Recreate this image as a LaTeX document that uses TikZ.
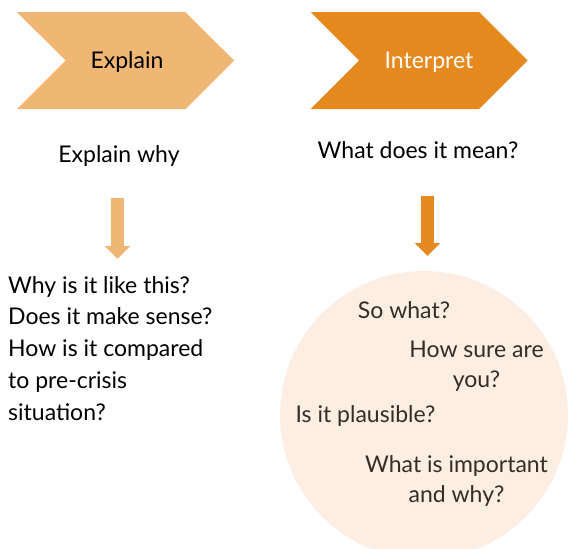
\documentclass[tikz,border=0pt]{standalone}
\usepackage{fontspec}
\setmainfont{Lato}
\usetikzlibrary{shapes.symbols,arrows.meta}
\definecolor{lightorange}{RGB}{240,183,116}
\definecolor{darkorange}{RGB}{230,137,30}
\definecolor{paleorange}{RGB}{252,238,227}
\definecolor{darkbrown}{RGB}{55,45,35}
\begin{document}
\begin{tikzpicture}[x=1pt,y=-1pt,line join=round,font=\fontsize{23}{31.75}\selectfont,
	chevron/.style={signal,signal from=west,signal to=east,signal pointer angle=90,minimum width=217pt,minimum height=97pt,inner sep=0pt},
	downarrow/.style={line width=13pt,-{Triangle[width=25pt,length=13pt]}},
	question/.style={anchor=base,align=center,text=darkbrown,inner sep=0pt,font=\fontsize{23}{30}\selectfont}]
	\useasboundingbox (0,0) rectangle (568,549);
	\begin{scope}
		\clip (0,0) rectangle (568,549);
		\fill[paleorange] (424,415) circle(144);
	\end{scope}
	\node[chevron,fill=lightorange] (explain) at (125.5,60.5) {};
	\node[chevron,fill=darkorange] (interpret) at (419,60.5) {};
	\node[anchor=base,inner sep=0pt] (explaintxt) at (127,68) {Explain};
	\node[anchor=base,inner sep=0pt,text=white] (interprettxt) at (429,68) {Interpret};
	\node[anchor=base,inner sep=0pt] (why) at (119,162) {Explain why};
	\node[anchor=base,inner sep=0pt] (mean) at (418,158) {What does it mean?};
	\coordinate (lefttop) at (117.5,198);
	\coordinate (leftend) at (117.5,259);
	\coordinate (righttop) at (427.5,196);
	\coordinate (rightend) at (427.5,256);
	\draw[downarrow,lightorange] (lefttop)--(leftend);
	\draw[downarrow,darkorange] (righttop)--(rightend);
	\node[anchor=base west,align=left,inner sep=0pt] (explainlist) at (8,420) {Why is it like this?\\Does it make sense?\\How is it compared\\to pre-crisis\\situation?};
	\node[question] (sowhat) at (404,318) {So what?};
	\node[question] (howsure) at (476.5,387) {How sure are\\you?};
	\node[question] (plausible) at (365.5,422) {Is it plausible?};
	\node[question] (important) at (456.5,502) {What is important\\and why?};
\end{tikzpicture}
\end{document}
